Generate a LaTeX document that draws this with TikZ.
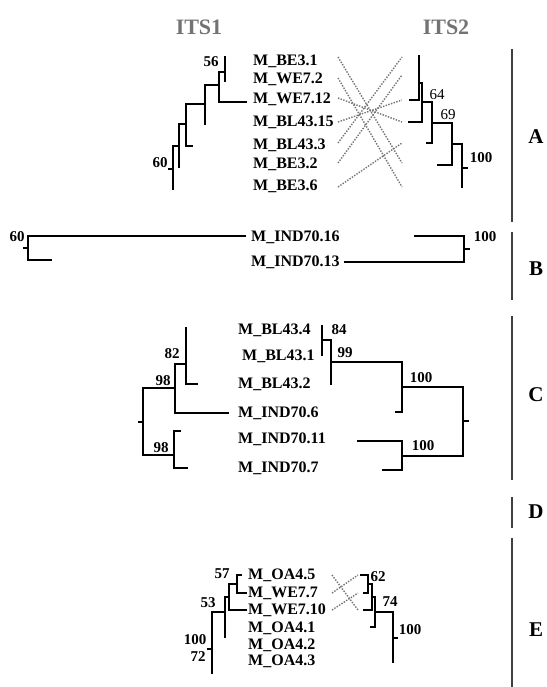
\documentclass[tikz,border=0pt]{standalone}
\usepackage{fontspec}
\setmainfont{Liberation Serif}
\usetikzlibrary{calc}
\tikzset{
	treeline/.style={line width=2.2pt, line cap=rect},
	dotlink/.style={draw=black!55, line width=1.4pt, dash pattern=on 1.4pt off 1.4pt},
	taxon/.style={anchor=west, inner sep=0pt, font=\bfseries\fontsize{16}{16}\selectfont},
	bootval/.style={inner sep=0pt, font=\bfseries\fontsize{15}{15}\selectfont},
	bootlight/.style={inner sep=0pt, font=\fontsize{15}{15}\selectfont},
	headtxt/.style={inner sep=0pt, text=black!55, font=\bfseries\fontsize{22}{22}\selectfont},
	grouptxt/.style={inner sep=0pt, font=\bfseries\fontsize{21}{21}\selectfont},
	groupbar/.style={draw=black!75, line width=2pt}
}

\begin{document}
\begin{tikzpicture}[x=1pt,y=-1pt]
			%%%%% START %%%%%
			\useasboundingbox (0,0) rectangle (546,687);
			
			\node[headtxt] (its1) at (199,27) {ITS1};
			\node[headtxt] (its2) at (446,27) {ITS2};
			
			% group A
			\node[taxon] (a1) at (253,61) {M\_BE3.1};
			\node[taxon] (a2) at (253,79) {M\_WE7.2};
			\node[taxon] (a3) at (253,99) {M\_WE7.12};
			\node[taxon] (a4) at (253,122) {M\_BL43.15};
			\node[taxon] (a5) at (253,145) {M\_BL43.3};
			\node[taxon] (a6) at (253,164) {M\_BE3.2};
			\node[taxon] (a7) at (253,186) {M\_BE3.6};
			
			\draw[treeline] (225,57) -- (225,81);
			\draw[treeline] (225,72) -- (219,72) -- (219,102) -- (246,102);
			\draw[treeline] (219,85) -- (205,85) -- (205,124);
			\draw[treeline] (205,104) -- (186,104) -- (186,146) -- (192,146);
			\draw[treeline] (186,124) -- (179,124) -- (179,167);
			\draw[treeline] (179,146) -- (173,146) -- (173,189);
			\draw[treeline] (173,169) -- (169,169);
			\node[bootval] (ba56) at (211,62) {56};
			\node[bootval] (ba60) at (160,163) {60};
			
			\draw[treeline] (419,56) -- (419,100) -- (410,100);
			\draw[treeline] (419,83) -- (422,83) -- (422,122) -- (409,122);
			\draw[treeline] (422,102) -- (432,102) -- (432,143) -- (427,143);
			\draw[treeline] (432,123) -- (452,123) -- (452,165) -- (438,165);
			\draw[treeline] (452,144) -- (462,144) -- (462,187);
			\draw[treeline] (462,168) -- (467,168);
			\node[bootlight] (ba64) at (437,95) {64};
			\node[bootlight] (ba69) at (448,115) {69};
			\node[bootval] (ba100) at (481,158) {100};
			
			\draw[dotlink] (338,57) -- (402,163);
			\draw[dotlink] (338,78) -- (402,187);
			\draw[dotlink] (338,98) -- (402,122);
			\draw[dotlink] (338,122) -- (402,100);
			\draw[dotlink] (338,143) -- (402,57);
			\draw[dotlink] (338,163) -- (402,75);
			\draw[dotlink] (338,187) -- (402,143);
			
			% group B
			\node[taxon] (b1) at (251,237) {M\_IND70.16};
			\node[taxon] (b2) at (251,262) {M\_IND70.13};
			
			\draw[treeline] (245,236) -- (28,236) -- (28,260) -- (51,260);
			\draw[treeline] (28,248) -- (24,248);
			\node[bootval] (bb60) at (17,237) {60};
			
			\draw[treeline] (415,236) -- (464,236) -- (464,262) -- ($(b2.east)+(5,0)$);
			\draw[treeline] (464,249) -- (469,249);
			\node[bootval] (bb100) at (485,237) {100};
			
			% group C
			\node[taxon] (c1) at (238,330) {M\_BL43.4};
			\node[taxon] (c2) at (242,356) {M\_BL43.1};
			\node[taxon] (c3) at (238,384) {M\_BL43.2};
			\node[taxon] (c4) at (238,413) {M\_IND70.6};
			\node[taxon] (c5) at (238,439) {M\_IND70.11};
			\node[taxon] (c6) at (238,468) {M\_IND70.7};
			
			\draw[treeline] (186,328) -- (186,384) -- (197,384);
			\draw[treeline] (186,364) -- (175,364) -- (175,413) -- (228,413);
			\draw[treeline] (175,388) -- (143,388) -- (143,455) -- (174,455);
			\draw[treeline] (143,422) -- (139,422);
			\draw[treeline] (180,431) -- (174,431) -- (174,468) -- (187,468);
			\node[bootval] (bc82) at (172,354) {82};
			\node[bootval] (bc98a) at (163,381) {98};
			\node[bootval] (bc98b) at (161,448) {98};
			
			\draw[treeline] (322,326) -- (322,355);
			\draw[treeline] (322,340) -- (331,340) -- (331,384);
			\draw[treeline] (331,362) -- (402,362) -- (402,412) -- (396,412);
			\draw[treeline] (402,387) -- (463,387) -- (463,456) -- (402,456);
			\draw[treeline] (463,421) -- (468,421);
			\draw[treeline] (358,441) -- (402,441) -- (402,470) -- (383,470);
			\node[bootval] (bc84) at (339,330) {84};
			\node[bootval] (bc99) at (345,353) {99};
			\node[bootval] (bc100a) at (421,378) {100};
			\node[bootval] (bc100b) at (423,446) {100};
			
			% group E
			\node[taxon] (e1) at (248,575) {M\_OA4.5};
			\node[taxon] (e2) at (248,593) {M\_WE7.7};
			\node[taxon] (e3) at (248,610) {M\_WE7.10};
			\node[taxon] (e4) at (248,628) {M\_OA4.1};
			\node[taxon] (e5) at (248,645) {M\_OA4.2};
			\node[taxon] (e6) at (248,661) {M\_OA4.3};
			
			\draw[treeline] (241,575) -- (237,575) -- (237,593) -- (246,593);
			\draw[treeline] (237,584) -- (229,584) -- (229,610) -- (246,610);
			\draw[treeline] (229,597) -- (225,597) -- (225,637);
			\draw[treeline] (225,612) -- (212,612) -- (212,673);
			\draw[treeline] (212,649) -- (208,649);
			\node[bootval] (be57) at (222,574) {57};
			\node[bootval] (be53) at (208,603) {53};
			\node[bootval] (be100) at (195,640) {100};
			\node[bootval] (be72) at (198,657) {72};
			
			\draw[treeline] (361,575) -- (368,575) -- (368,593) -- (364,593);
			\draw[treeline] (368,584) -- (372,584) -- (372,610) -- (364,610);
			\draw[treeline] (372,597) -- (375,597) -- (375,627) -- (371,627);
			\draw[treeline] (375,612) -- (393,612) -- (393,662);
			\draw[treeline] (393,638) -- (397,638);
			\node[bootval] (be62) at (378,577) {62};
			\node[bootval] (be74) at (390,602) {74};
			\node[bootval] (be100b) at (410,630) {100};
			
			\draw[dotlink] (332,575) -- (358,610);
			\draw[dotlink] (332,593) -- (358,575);
			\draw[dotlink] (332,610) -- (358,593);
			
			% groups
			\draw[groupbar] (512,49) -- (512,222);
			\draw[groupbar] (512,232) -- (512,300);
			\draw[groupbar] (512,316) -- (512,480);
			\draw[groupbar] (512,497) -- (512,528);
			\draw[groupbar] (512,538) -- (512,687);
			\node[grouptxt] (ga) at (536,137) {A};
			\node[grouptxt] (gb) at (536,269) {B};
			\node[grouptxt] (gc) at (536,395) {C};
			\node[grouptxt] (gd) at (536,512) {D};
			\node[grouptxt] (ge) at (536,630) {E};
			
			%%%%% END %%%%%
\end{tikzpicture}
\end{document}
